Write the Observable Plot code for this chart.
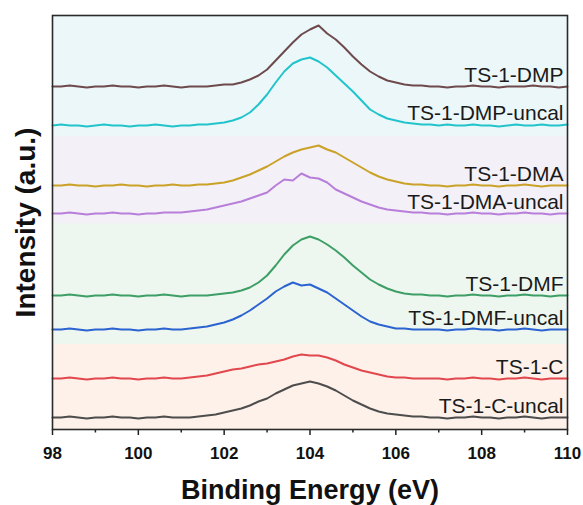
<!DOCTYPE html>
<html>
<head>
<meta charset="utf-8">
<script src="https://cdn.jsdelivr.net/npm/d3@7"></script>
<script src="https://cdn.jsdelivr.net/npm/@observablehq/plot@0.6"></script>
<style>
  html, body { margin: 0; padding: 0; background: #ffffff; }
  #chart { width: 583px; height: 505px; }
</style>
</head>
<body>
<div id="chart"></div>
<script>
// Binding energy grid (eV), step 0.2
const energy = d3.range(0, 61).map(i => +(98 + i * 0.2).toFixed(1));

// Intensities (a.u., offset-stacked)
const dmp = [343,343,344,343,342,343,343,344,343,343,342,343,343,344,343,342,343,343,343,
  344,345,345,347,350,354,360,369,378,387,395,400,404,396,390,382,373,365,358,353,349,347,345,344,344,343,
  343,342,343,343,344,343,343,342,343,343,343,344,343,343,342,343];
const dmpUncal = [304,305,304,304,303,304,305,304,304,303,304,304,305,304,303,304,304,305,
  305,306,307,309,312,317,325,335,347,358,366,370,372,368,362,354,346,338,329,320,315,311,309,307,306,305,305,
  304,305,304,304,305,304,304,303,304,305,304,304,305,304,304,305];
const dma = [244,244,245,244,244,243,244,244,245,244,244,243,244,244,245,244,
  244,245,245,246,247,249,252,255,259,263,268,273,277,280,282,284,280,277,272,267,262,257,253,250,248,246,245,245,244,
  244,243,244,244,245,244,244,243,244,244,245,244,243,244,244,244];
const dmaUncal = [216,216,217,216,215,216,216,217,216,216,215,216,216,217,
  217,217,218,219,220,222,224,226,228,231,234,237,244,250,249,256,252,251,247,240,236,232,228,225,222,220,219,218,217,217,216,
  216,215,216,216,217,216,216,215,216,216,217,216,216,215,216,216];
const dmf = [134,134,135,134,133,134,134,135,134,134,133,134,134,135,134,133,134,134,134,
  135,136,137,139,142,147,154,164,175,184,190,193,190,185,179,172,164,157,150,145,141,138,136,135,135,134,
  134,133,134,134,135,134,134,133,134,134,135,134,134,133,134,134];
const dmfUncal = [100,100,101,100,99,100,100,101,100,100,99,100,100,101,100,100,
  101,102,103,105,107,110,114,119,125,131,138,143,147,144,145,141,137,131,125,119,113,108,105,103,101,101,100,100,100,
  100,99,100,100,101,100,100,99,100,100,101,100,99,100,100,100];
const tsC = [51,51,52,51,50,51,51,52,51,51,50,51,51,52,51,51,
  52,53,54,56,58,60,61,63,65,66,68,70,73,75,74,74,72,69,65,62,59,57,55,53,52,52,51,51,51,
  51,50,51,51,52,51,51,50,51,51,52,51,50,51,51,51];
const tsCUncal = [12,12,13,12,11,12,12,13,12,12,11,12,12,13,12,12,12,
  13,14,15,17,19,21,24,28,31,36,40,44,46,48,46,43,39,34,29,25,21,18,16,15,14,13,13,12,
  12,11,12,12,13,12,12,11,12,12,13,12,11,12,12,12];

const seriesNames = ["TS-1-DMP", "TS-1-DMP-uncal", "TS-1-DMA", "TS-1-DMA-uncal",
                     "TS-1-DMF", "TS-1-DMF-uncal", "TS-1-C", "TS-1-C-uncal"];
const seriesValues = [dmp, dmpUncal, dma, dmaUncal, dmf, dmfUncal, tsC, tsCUncal];
const seriesColors = ["#6e4a4c", "#22c4cc", "#c9a227", "#b77fd9",
                      "#3d9e66", "#2b63d1", "#e2474d", "#4d4d4d"];

// Background groups (intensity ranges)
const bandLow = [293, 206, 85, 0];
const bandHigh = [414, 293, 206, 85];
const bandColors = ["#ecf7f9", "#f4f0f8", "#eef7ef", "#fdf1ea"];

const xDomain = [98, 110];
const yDomain = [0, 414];
const majorTicks = [98, 100, 102, 104, 106, 108, 110];
const minorTicks = [99, 101, 103, 105, 107, 109];

const bands = bandLow.map((lo, i) => ({x1: xDomain[0], x2: xDomain[1], y1: lo, y2: bandHigh[i], color: bandColors[i]}));

const marks = [];
bands.forEach(b => marks.push(Plot.rect([b], {x1: "x1", x2: "x2", y1: "y1", y2: "y2", fill: b.color})));
seriesValues.forEach((vals, s) => {
  const pts = vals.map((v, i) => ({x: energy[i], y: v}));
  marks.push(Plot.line(pts, {x: "x", y: "y", stroke: seriesColors[s], strokeWidth: 2, curve: "linear"}));
  marks.push(Plot.text([{x: xDomain[1], y: vals[vals.length - 1], label: seriesNames[s]}], {
    x: "x", y: "y", text: "label", textAnchor: "end", lineAnchor: "bottom",
    dx: -4, dy: -5, fontSize: 21, fontWeight: "normal", fill: "#1a1a1a"
  }));
});
marks.push(Plot.axisX({ticks: minorTicks, tickSize: 3.5, tickFormat: () => "", strokeWidth: 1.5, stroke: "#222"}));
marks.push(Plot.axisX({ticks: majorTicks, tickSize: 6, tickPadding: 11, tickFormat: d => String(d), strokeWidth: 1.5, stroke: "#222", fill: "#111", fontSize: 17, fontWeight: "bold", label: null}));
marks.push(Plot.frame({stroke: "#2a2a2a", strokeWidth: 1.6}));
marks.push(Plot.text(["Binding Energy (eV)"], {frameAnchor: "bottom", lineAnchor: "bottom", dy: 69, fontSize: 27, fontWeight: "bold", fill: "#111"}));
marks.push(Plot.text(["Intensity (a.u.)"], {frameAnchor: "left", rotate: -90, dx: -26, textAnchor: "middle", lineAnchor: "middle", fontSize: 28, fontWeight: "bold", fill: "#111"}));

const chart = Plot.plot({
  width: 583,
  height: 505,
  marginLeft: 52,
  marginRight: 16,
  marginTop: 15,
  marginBottom: 76,
  style: {fontFamily: "'Liberation Sans', Arial, sans-serif", fontSize: "17px", fontWeight: "bold", background: "#ffffff", overflow: "visible"},
  x: {domain: xDomain, axis: null},
  y: {domain: yDomain, axis: null},
  marks
});
document.getElementById("chart").appendChild(chart);
</script>
</body>
</html>
